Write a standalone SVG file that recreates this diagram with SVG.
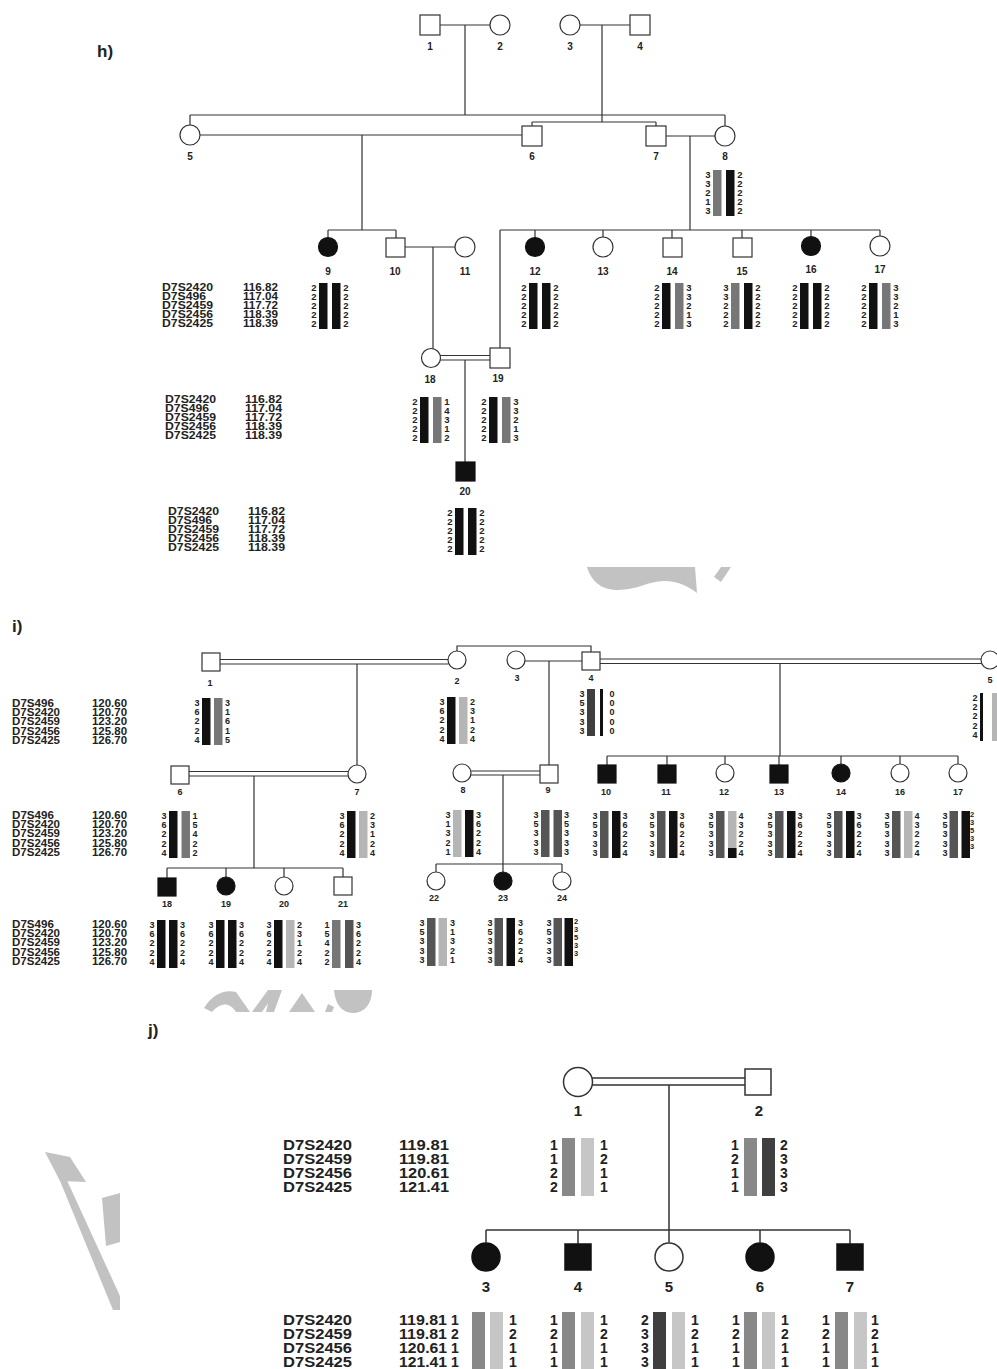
<svg xmlns="http://www.w3.org/2000/svg" width="997" height="1369" viewBox="0 0 997 1369">
<style>
.l{stroke:#333;stroke-width:1.2;fill:none}
.lj{stroke:#333;stroke-width:1.5;fill:none}
.n{fill:#fff;stroke:#333;stroke-width:1.2}
.nj{fill:#fff;stroke:#333;stroke-width:1.5}
.f{fill:#111;stroke:#111;stroke-width:1.2}
.fj{fill:#111;stroke:#111;stroke-width:1.5}
text{font-family:"Liberation Sans",Arial,Helvetica,sans-serif;fill:#222}
.sec{font-size:17px;font-weight:bold}
.lb{font-size:10px;font-weight:bold;text-anchor:middle}
.lbi{font-size:9px;font-weight:bold;text-anchor:middle}
.lbj{font-size:15px;font-weight:bold;text-anchor:middle}
.a{font-size:9.5px;font-weight:bold;text-anchor:middle}
.ai{font-size:9px;font-weight:bold;text-anchor:middle}
.as{font-size:7.5px;font-weight:bold;text-anchor:middle}
.aj{font-size:14px;font-weight:bold;text-anchor:middle}
.m{font-size:10px;font-weight:bold}
.mj{font-size:14px;font-weight:bold}
.bk{fill:#111}.dg{fill:#555}.d4{fill:#3f3f3f}.mg{fill:#777}.gj{fill:#888}.lg{fill:#b5b5b5}.lc{fill:#c6c6c6}
.wm{fill:#c2c2c2}
</style>

<!-- watermark fragments -->
<g id="watermark">
<path class="wm" d="M587,567 L695,567 L697,593 C688,586 678,581 664,581 C648,581 638,590 618,590 C600,590 591,580 587,567 Z"/>
<path class="wm" d="M721,567 L731,567 L721,582 L714,577 Z"/>
<path class="wm" d="M204,1008 C212,995 224,989 236,992 L250,1012 L236,1012 C230,1002 220,1002 212,1012 Z"/>
<path class="wm" d="M252,1012 L268,990 L282,990 L274,1012 L266,1012 L268,1003 L262,1012 Z"/>
<path class="wm" d="M289,1012 L302,993 L315,1012 Z"/>
<path class="wm" d="M325,1012 L328,1004 L334,1007 L332,1012 Z"/>
<path class="wm" d="M334,990 L372,990 C372,1004 364,1013 353,1013 C342,1013 335,1004 334,990 Z"/>
<path class="wm" d="M45,1152 L70,1157 L86,1182 L60,1181 Z"/>
<path class="wm" d="M58,1176 L65,1176 L120,1296 L120,1310 L113,1310 Z"/>
<path class="wm" d="M102,1198 L120,1193 L120,1242 L106,1246 Z"/>
</g>

<!-- section labels -->
<text class="sec" x="97" y="57">h)</text>
<text class="sec" x="12" y="632">i)</text>
<text class="sec" x="148" y="1036">j)</text>

<!-- ===================== h) connectors ===================== -->
<g id="h-connectors">
<path class="l" d="M440,25 H490 M465,25 V115 M580,25 H630 M602,25 V122"/>
<path class="l" d="M190,115 H725 M190,115 V125 M725,115 V126"/>
<path class="l" d="M532,122 H656 M532,122 V126 M656,122 V126"/>
<path class="l" d="M200,135 H522 M362,135 V230 M666,136 H715 M690,136 V230"/>
<path class="l" d="M328,230 H396 M328,230 V237.5 M396,230 V238"/>
<path class="l" d="M500,230 H880 M535,230 V237.5 M603,230 V237 M672,230 V238 M742,230 V238 M811,230 V236.5 M880,230 V236"/>
<path class="l" d="M500,230 V348 M405,247 H455 M433,247 V349"/>
<path class="l" d="M440,355.5 H490 M440,360 H490 M465,360 V462"/>
</g>

<!-- h) marker tables -->
<g id="h-markers1">
<text class="m" x="162" y="290.5" textLength="51" lengthAdjust="spacingAndGlyphs">D7S2420</text>
<text class="m" x="162" y="299.7" textLength="44" lengthAdjust="spacingAndGlyphs">D7S496</text>
<text class="m" x="162" y="308.9" textLength="51" lengthAdjust="spacingAndGlyphs">D7S2459</text>
<text class="m" x="162" y="318.1" textLength="51" lengthAdjust="spacingAndGlyphs">D7S2456</text>
<text class="m" x="162" y="327.3" textLength="51" lengthAdjust="spacingAndGlyphs">D7S2425</text>
<text class="m" x="243" y="290.5" textLength="35" lengthAdjust="spacingAndGlyphs">116.82</text>
<text class="m" x="243" y="299.7" textLength="35" lengthAdjust="spacingAndGlyphs">117.04</text>
<text class="m" x="243" y="308.9" textLength="35" lengthAdjust="spacingAndGlyphs">117.72</text>
<text class="m" x="243" y="318.1" textLength="35" lengthAdjust="spacingAndGlyphs">118.39</text>
<text class="m" x="243" y="327.3" textLength="35" lengthAdjust="spacingAndGlyphs">118.39</text>
</g>
<g id="h-markers2">
<text class="m" x="165" y="402.5" textLength="51" lengthAdjust="spacingAndGlyphs">D7S2420</text>
<text class="m" x="165" y="411.7" textLength="44" lengthAdjust="spacingAndGlyphs">D7S496</text>
<text class="m" x="165" y="420.9" textLength="51" lengthAdjust="spacingAndGlyphs">D7S2459</text>
<text class="m" x="165" y="430.1" textLength="51" lengthAdjust="spacingAndGlyphs">D7S2456</text>
<text class="m" x="165" y="439.3" textLength="51" lengthAdjust="spacingAndGlyphs">D7S2425</text>
<text class="m" x="245" y="402.5" textLength="37" lengthAdjust="spacingAndGlyphs">116.82</text>
<text class="m" x="245" y="411.7" textLength="37" lengthAdjust="spacingAndGlyphs">117.04</text>
<text class="m" x="245" y="420.9" textLength="37" lengthAdjust="spacingAndGlyphs">117.72</text>
<text class="m" x="245" y="430.1" textLength="37" lengthAdjust="spacingAndGlyphs">118.39</text>
<text class="m" x="245" y="439.3" textLength="37" lengthAdjust="spacingAndGlyphs">118.39</text>
</g>
<g id="h-markers3">
<text class="m" x="168" y="514.5" textLength="51" lengthAdjust="spacingAndGlyphs">D7S2420</text>
<text class="m" x="168" y="523.7" textLength="44" lengthAdjust="spacingAndGlyphs">D7S496</text>
<text class="m" x="168" y="532.9" textLength="51" lengthAdjust="spacingAndGlyphs">D7S2459</text>
<text class="m" x="168" y="542.1" textLength="51" lengthAdjust="spacingAndGlyphs">D7S2456</text>
<text class="m" x="168" y="551.3" textLength="51" lengthAdjust="spacingAndGlyphs">D7S2425</text>
<text class="m" x="248" y="514.5" textLength="37" lengthAdjust="spacingAndGlyphs">116.82</text>
<text class="m" x="248" y="523.7" textLength="37" lengthAdjust="spacingAndGlyphs">117.04</text>
<text class="m" x="248" y="532.9" textLength="37" lengthAdjust="spacingAndGlyphs">117.72</text>
<text class="m" x="248" y="542.1" textLength="37" lengthAdjust="spacingAndGlyphs">118.39</text>
<text class="m" x="248" y="551.3" textLength="37" lengthAdjust="spacingAndGlyphs">118.39</text>
</g>

<!-- ===================== h) nodes ===================== -->
<g id="h1"><rect class="n" x="420" y="15" width="20" height="20"/><text class="lb" x="430" y="50">1</text></g>
<g id="h2"><circle class="n" cx="500" cy="25" r="10"/><text class="lb" x="500" y="50">2</text></g>
<g id="h3"><circle class="n" cx="570" cy="25" r="10"/><text class="lb" x="570" y="50">3</text></g>
<g id="h4"><rect class="n" x="630" y="15" width="20" height="20"/><text class="lb" x="640" y="50">4</text></g>
<g id="h5"><circle class="n" cx="190" cy="135" r="10"/><text class="lb" x="190" y="160">5</text></g>
<g id="h6"><rect class="n" x="522" y="126" width="20" height="20"/><text class="lb" x="532" y="160">6</text></g>
<g id="h7"><rect class="n" x="646" y="126" width="20" height="20"/><text class="lb" x="656" y="160">7</text></g>
<g id="h8"><circle class="n" cx="725" cy="136" r="10"/><text class="lb" x="725" y="160">8</text>
<g transform="translate(708,170)"><rect class="mg" x="5" width="8.5" height="46"/><rect class="bk" x="18" width="8.5" height="46"/>
<text class="a" x="0" y="7.5">3<tspan x="0" dy="9.2">3</tspan><tspan x="0" dy="9.2">2</tspan><tspan x="0" dy="9.2">1</tspan><tspan x="0" dy="9.2">3</tspan></text>
<text class="a" x="32" y="7.5">2<tspan x="32" dy="9.2">2</tspan><tspan x="32" dy="9.2">2</tspan><tspan x="32" dy="9.2">2</tspan><tspan x="32" dy="9.2">2</tspan></text></g></g>

<g id="h9"><circle class="f" cx="328" cy="247" r="9.5"/><text class="lb" x="328" y="275">9</text>
<g transform="translate(314,283)"><rect class="bk" x="5" width="8.5" height="46"/><rect class="bk" x="18" width="8.5" height="46"/>
<text class="a" x="0" y="7.5">2<tspan x="0" dy="9.2">2</tspan><tspan x="0" dy="9.2">2</tspan><tspan x="0" dy="9.2">2</tspan><tspan x="0" dy="9.2">2</tspan></text>
<text class="a" x="32" y="7.5">2<tspan x="32" dy="9.2">2</tspan><tspan x="32" dy="9.2">2</tspan><tspan x="32" dy="9.2">2</tspan><tspan x="32" dy="9.2">2</tspan></text></g></g>
<g id="h10"><rect class="n" x="386" y="238" width="19" height="19"/><text class="lb" x="395" y="275">10</text></g>
<g id="h11"><circle class="n" cx="465" cy="247" r="10"/><text class="lb" x="465" y="275">11</text></g>
<g id="h12"><circle class="f" cx="535" cy="247" r="9.5"/><text class="lb" x="535" y="275">12</text>
<g transform="translate(524,283)"><rect class="bk" x="5" width="8.5" height="46"/><rect class="bk" x="18" width="8.5" height="46"/>
<text class="a" x="0" y="7.5">2<tspan x="0" dy="9.2">2</tspan><tspan x="0" dy="9.2">2</tspan><tspan x="0" dy="9.2">2</tspan><tspan x="0" dy="9.2">2</tspan></text>
<text class="a" x="32" y="7.5">2<tspan x="32" dy="9.2">2</tspan><tspan x="32" dy="9.2">2</tspan><tspan x="32" dy="9.2">2</tspan><tspan x="32" dy="9.2">2</tspan></text></g></g>
<g id="h13"><circle class="n" cx="603" cy="247" r="10"/><text class="lb" x="603" y="275">13</text></g>
<g id="h14"><rect class="n" x="663" y="238" width="19" height="19"/><text class="lb" x="672" y="275">14</text>
<g transform="translate(657,283)"><rect class="bk" x="5" width="8.5" height="46"/><rect class="mg" x="18" width="8.5" height="46"/>
<text class="a" x="0" y="7.5">2<tspan x="0" dy="9.2">2</tspan><tspan x="0" dy="9.2">2</tspan><tspan x="0" dy="9.2">2</tspan><tspan x="0" dy="9.2">2</tspan></text>
<text class="a" x="32" y="7.5">3<tspan x="32" dy="9.2">3</tspan><tspan x="32" dy="9.2">2</tspan><tspan x="32" dy="9.2">1</tspan><tspan x="32" dy="9.2">3</tspan></text></g></g>
<g id="h15"><rect class="n" x="733" y="238" width="19" height="19"/><text class="lb" x="742" y="275">15</text>
<g transform="translate(726,283)"><rect class="mg" x="5" width="8.5" height="46"/><rect class="bk" x="18" width="8.5" height="46"/>
<text class="a" x="0" y="7.5">3<tspan x="0" dy="9.2">3</tspan><tspan x="0" dy="9.2">2</tspan><tspan x="0" dy="9.2">2</tspan><tspan x="0" dy="9.2">2</tspan></text>
<text class="a" x="32" y="7.5">2<tspan x="32" dy="9.2">2</tspan><tspan x="32" dy="9.2">2</tspan><tspan x="32" dy="9.2">2</tspan><tspan x="32" dy="9.2">2</tspan></text></g></g>
<g id="h16"><circle class="f" cx="811" cy="246" r="9.5"/><text class="lb" x="811" y="273">16</text>
<g transform="translate(795,283)"><rect class="bk" x="5" width="8.5" height="46"/><rect class="bk" x="18" width="8.5" height="46"/>
<text class="a" x="0" y="7.5">2<tspan x="0" dy="9.2">2</tspan><tspan x="0" dy="9.2">2</tspan><tspan x="0" dy="9.2">2</tspan><tspan x="0" dy="9.2">2</tspan></text>
<text class="a" x="32" y="7.5">2<tspan x="32" dy="9.2">2</tspan><tspan x="32" dy="9.2">2</tspan><tspan x="32" dy="9.2">2</tspan><tspan x="32" dy="9.2">2</tspan></text></g></g>
<g id="h17"><circle class="n" cx="880" cy="246" r="10"/><text class="lb" x="880" y="273">17</text>
<g transform="translate(864,283)"><rect class="bk" x="5" width="8.5" height="46"/><rect class="mg" x="18" width="8.5" height="46"/>
<text class="a" x="0" y="7.5">2<tspan x="0" dy="9.2">2</tspan><tspan x="0" dy="9.2">2</tspan><tspan x="0" dy="9.2">2</tspan><tspan x="0" dy="9.2">2</tspan></text>
<text class="a" x="32" y="7.5">3<tspan x="32" dy="9.2">3</tspan><tspan x="32" dy="9.2">2</tspan><tspan x="32" dy="9.2">1</tspan><tspan x="32" dy="9.2">3</tspan></text></g></g>
<g id="h18"><circle class="n" cx="431" cy="358" r="9.5"/><text class="lb" x="430" y="383">18</text>
<g transform="translate(415,397)"><rect class="bk" x="5" width="8.5" height="46"/><rect class="mg" x="18" width="8.5" height="46"/>
<text class="a" x="0" y="7.5">2<tspan x="0" dy="9.2">2</tspan><tspan x="0" dy="9.2">2</tspan><tspan x="0" dy="9.2">2</tspan><tspan x="0" dy="9.2">2</tspan></text>
<text class="a" x="32" y="7.5">1<tspan x="32" dy="9.2">4</tspan><tspan x="32" dy="9.2">3</tspan><tspan x="32" dy="9.2">1</tspan><tspan x="32" dy="9.2">2</tspan></text></g></g>
<g id="h19"><rect class="n" x="490" y="348" width="20" height="20"/><text class="lb" x="498" y="382">19</text>
<g transform="translate(484,397)"><rect class="bk" x="5" width="8.5" height="46"/><rect class="mg" x="18" width="8.5" height="46"/>
<text class="a" x="0" y="7.5">2<tspan x="0" dy="9.2">2</tspan><tspan x="0" dy="9.2">2</tspan><tspan x="0" dy="9.2">2</tspan><tspan x="0" dy="9.2">2</tspan></text>
<text class="a" x="32" y="7.5">3<tspan x="32" dy="9.2">3</tspan><tspan x="32" dy="9.2">2</tspan><tspan x="32" dy="9.2">1</tspan><tspan x="32" dy="9.2">3</tspan></text></g></g>
<g id="h20"><rect class="f" x="456" y="462" width="19" height="19"/><text class="lb" x="465" y="495">20</text>
<g transform="translate(450,508)"><rect class="bk" x="5" width="8.5" height="47"/><rect class="bk" x="18" width="8.5" height="47"/>
<text class="a" x="0" y="7.5">2<tspan x="0" dy="9.2">2</tspan><tspan x="0" dy="9.2">2</tspan><tspan x="0" dy="9.2">2</tspan><tspan x="0" dy="9.2">2</tspan></text>
<text class="a" x="32" y="7.5">2<tspan x="32" dy="9.2">2</tspan><tspan x="32" dy="9.2">2</tspan><tspan x="32" dy="9.2">2</tspan><tspan x="32" dy="9.2">2</tspan></text></g></g>

<!-- ===================== i) connectors ===================== -->
<g id="i-connectors">
<path class="l" d="M220,659.5 H448 M220,664 H448 M357,664 V765"/>
<path class="l" d="M457,651 V646 H591 V652"/>
<path class="l" d="M525,661 H582 M549,661 V765"/>
<path class="l" d="M600,659 H981 M600,663.5 H981 M780,663.5 V756"/>
<path class="l" d="M607,756 H958 M607,756 V765 M667,756 V765 M725,756 V764 M779,756 V765 M841,756 V764 M900,756 V764 M958,756 V764"/>
<path class="l" d="M189,771.5 H348 M189,776 H348 M254,776 V868"/>
<path class="l" d="M167,868 H343 M167,868 V878 M226,868 V877 M284,868 V877 M343,868 V877"/>
<path class="l" d="M471,771 H540 M471,775 H540 M503,775 V864"/>
<path class="l" d="M436,864 H562 M436,864 V872 M503,864 V872 M562,864 V872"/>
</g>

<!-- i) marker tables -->
<g id="i-markers1">
<text class="m" x="12" y="706.5" textLength="42" lengthAdjust="spacingAndGlyphs">D7S496</text>
<text class="m" x="12" y="715.9" textLength="48" lengthAdjust="spacingAndGlyphs">D7S2420</text>
<text class="m" x="12" y="725.3" textLength="48" lengthAdjust="spacingAndGlyphs">D7S2459</text>
<text class="m" x="12" y="734.7" textLength="48" lengthAdjust="spacingAndGlyphs">D7S2456</text>
<text class="m" x="12" y="744.1" textLength="48" lengthAdjust="spacingAndGlyphs">D7S2425</text>
<text class="m" x="92" y="706.5" textLength="35" lengthAdjust="spacingAndGlyphs">120.60</text>
<text class="m" x="92" y="715.9" textLength="35" lengthAdjust="spacingAndGlyphs">120.70</text>
<text class="m" x="92" y="725.3" textLength="35" lengthAdjust="spacingAndGlyphs">123.20</text>
<text class="m" x="92" y="734.7" textLength="35" lengthAdjust="spacingAndGlyphs">125.80</text>
<text class="m" x="92" y="744.1" textLength="35" lengthAdjust="spacingAndGlyphs">126.70</text>
</g>
<g id="i-markers2">
<text class="m" x="12" y="818.5" textLength="42" lengthAdjust="spacingAndGlyphs">D7S496</text>
<text class="m" x="12" y="827.9" textLength="48" lengthAdjust="spacingAndGlyphs">D7S2420</text>
<text class="m" x="12" y="837.3" textLength="48" lengthAdjust="spacingAndGlyphs">D7S2459</text>
<text class="m" x="12" y="846.7" textLength="48" lengthAdjust="spacingAndGlyphs">D7S2456</text>
<text class="m" x="12" y="856.1" textLength="48" lengthAdjust="spacingAndGlyphs">D7S2425</text>
<text class="m" x="92" y="818.5" textLength="35" lengthAdjust="spacingAndGlyphs">120.60</text>
<text class="m" x="92" y="827.9" textLength="35" lengthAdjust="spacingAndGlyphs">120.70</text>
<text class="m" x="92" y="837.3" textLength="35" lengthAdjust="spacingAndGlyphs">123.20</text>
<text class="m" x="92" y="846.7" textLength="35" lengthAdjust="spacingAndGlyphs">125.80</text>
<text class="m" x="92" y="856.1" textLength="35" lengthAdjust="spacingAndGlyphs">126.70</text>
</g>
<g id="i-markers3">
<text class="m" x="12" y="927.5" textLength="42" lengthAdjust="spacingAndGlyphs">D7S496</text>
<text class="m" x="12" y="936.9" textLength="48" lengthAdjust="spacingAndGlyphs">D7S2420</text>
<text class="m" x="12" y="946.3" textLength="48" lengthAdjust="spacingAndGlyphs">D7S2459</text>
<text class="m" x="12" y="955.7" textLength="48" lengthAdjust="spacingAndGlyphs">D7S2456</text>
<text class="m" x="12" y="965.1" textLength="48" lengthAdjust="spacingAndGlyphs">D7S2425</text>
<text class="m" x="92" y="927.5" textLength="35" lengthAdjust="spacingAndGlyphs">120.60</text>
<text class="m" x="92" y="936.9" textLength="35" lengthAdjust="spacingAndGlyphs">120.70</text>
<text class="m" x="92" y="946.3" textLength="35" lengthAdjust="spacingAndGlyphs">123.20</text>
<text class="m" x="92" y="955.7" textLength="35" lengthAdjust="spacingAndGlyphs">125.80</text>
<text class="m" x="92" y="965.1" textLength="35" lengthAdjust="spacingAndGlyphs">126.70</text>
</g>

<!-- ===================== i) nodes ===================== -->
<g id="i1"><rect class="n" x="202" y="653" width="18" height="18"/><text class="lbi" x="210" y="686">1</text>
<g transform="translate(197,698)"><rect class="bk" x="5" width="8.5" height="47"/><rect class="mg" x="17" width="8.5" height="47"/>
<text class="ai" x="0" y="7.5">3<tspan x="0" dy="9.4">6</tspan><tspan x="0" dy="9.4">2</tspan><tspan x="0" dy="9.4">2</tspan><tspan x="0" dy="9.4">4</tspan></text>
<text class="ai" x="30.5" y="7.5">3<tspan x="30.5" dy="9.4">1</tspan><tspan x="30.5" dy="9.4">6</tspan><tspan x="30.5" dy="9.4">1</tspan><tspan x="30.5" dy="9.4">5</tspan></text></g></g>
<g id="i2"><circle class="n" cx="457" cy="660" r="9"/><text class="lbi" x="457" y="684">2</text>
<g transform="translate(442,697)"><rect class="bk" x="5" width="8.5" height="47"/><rect class="lg" x="17" width="8.5" height="47"/>
<text class="ai" x="0" y="7.5">3<tspan x="0" dy="9.4">6</tspan><tspan x="0" dy="9.4">2</tspan><tspan x="0" dy="9.4">2</tspan><tspan x="0" dy="9.4">4</tspan></text>
<text class="ai" x="30.5" y="7.5">2<tspan x="30.5" dy="9.4">3</tspan><tspan x="30.5" dy="9.4">1</tspan><tspan x="30.5" dy="9.4">2</tspan><tspan x="30.5" dy="9.4">4</tspan></text></g></g>
<g id="i3"><circle class="n" cx="516" cy="660" r="9"/><text class="lbi" x="517" y="681">3</text></g>
<g id="i4"><rect class="n" x="582" y="652" width="18" height="18"/><text class="lbi" x="591" y="681">4</text>
<g transform="translate(582,689)"><rect class="d4" x="5" width="8" height="47"/><rect class="bk" x="18" width="3" height="47"/>
<text class="ai" x="0" y="7.5">3<tspan x="0" dy="9.4">5</tspan><tspan x="0" dy="9.4">3</tspan><tspan x="0" dy="9.4">3</tspan><tspan x="0" dy="9.4">3</tspan></text>
<text class="ai" x="30" y="7.5">0<tspan x="30" dy="9.4">0</tspan><tspan x="30" dy="9.4">0</tspan><tspan x="30" dy="9.4">0</tspan><tspan x="30" dy="9.4">0</tspan></text></g></g>
<g id="i5"><circle class="n" cx="990" cy="660" r="9"/><text class="lbi" x="990" y="683">5</text>
<g transform="translate(975,693)"><rect class="bk" x="5" width="3" height="48"/><rect class="lg" x="17" width="8" height="48"/>
<text class="ai" x="0" y="7.5">2<tspan x="0" dy="9.4">2</tspan><tspan x="0" dy="9.4">2</tspan><tspan x="0" dy="9.4">2</tspan><tspan x="0" dy="9.4">4</tspan></text></g></g>

<g id="i6"><rect class="n" x="171" y="766" width="18" height="18"/><text class="lbi" x="180" y="795">6</text>
<g transform="translate(164,811)"><rect class="bk" x="5" width="8.5" height="47"/><rect class="mg" x="17.5" width="8.5" height="47"/>
<text class="ai" x="0" y="7.5">3<tspan x="0" dy="9.4">6</tspan><tspan x="0" dy="9.4">2</tspan><tspan x="0" dy="9.4">2</tspan><tspan x="0" dy="9.4">4</tspan></text>
<text class="ai" x="31" y="7.5">1<tspan x="31" dy="9.4">5</tspan><tspan x="31" dy="9.4">4</tspan><tspan x="31" dy="9.4">2</tspan><tspan x="31" dy="9.4">2</tspan></text></g></g>
<g id="i7"><circle class="n" cx="357" cy="774" r="9"/><text class="lbi" x="357" y="795">7</text>
<g transform="translate(342,811)"><rect class="bk" x="5" width="8.5" height="47"/><rect class="lg" x="17" width="8.5" height="47"/>
<text class="ai" x="0" y="7.5">3<tspan x="0" dy="9.4">6</tspan><tspan x="0" dy="9.4">2</tspan><tspan x="0" dy="9.4">2</tspan><tspan x="0" dy="9.4">4</tspan></text>
<text class="ai" x="30.5" y="7.5">2<tspan x="30.5" dy="9.4">3</tspan><tspan x="30.5" dy="9.4">1</tspan><tspan x="30.5" dy="9.4">2</tspan><tspan x="30.5" dy="9.4">4</tspan></text></g></g>
<g id="i8"><circle class="n" cx="462" cy="773" r="9"/><text class="lbi" x="463" y="793">8</text>
<g transform="translate(448,810)"><rect class="lg" x="5" width="8.5" height="47"/><rect class="bk" x="17" width="8.5" height="47"/>
<text class="ai" x="0" y="7.5">3<tspan x="0" dy="9.4">1</tspan><tspan x="0" dy="9.4">3</tspan><tspan x="0" dy="9.4">2</tspan><tspan x="0" dy="9.4">1</tspan></text>
<text class="ai" x="30.5" y="7.5">3<tspan x="30.5" dy="9.4">6</tspan><tspan x="30.5" dy="9.4">2</tspan><tspan x="30.5" dy="9.4">2</tspan><tspan x="30.5" dy="9.4">4</tspan></text></g></g>
<g id="i9"><rect class="n" x="540" y="765" width="18" height="18"/><text class="lbi" x="548" y="793">9</text>
<g transform="translate(536,810)"><rect class="dg" x="5" width="8.5" height="47"/><rect class="dg" x="17.5" width="8.5" height="47"/>
<text class="ai" x="0" y="7.5">3<tspan x="0" dy="9.4">5</tspan><tspan x="0" dy="9.4">3</tspan><tspan x="0" dy="9.4">3</tspan><tspan x="0" dy="9.4">3</tspan></text>
<text class="ai" x="30.5" y="7.5">3<tspan x="30.5" dy="9.4">5</tspan><tspan x="30.5" dy="9.4">3</tspan><tspan x="30.5" dy="9.4">3</tspan><tspan x="30.5" dy="9.4">3</tspan></text></g></g>
<g id="i10"><rect class="f" x="598" y="765" width="18" height="18"/><text class="lbi" x="606" y="795">10</text>
<g transform="translate(595,811)"><rect class="dg" x="5" width="8.5" height="47"/><rect class="bk" x="17" width="8.5" height="47"/>
<text class="ai" x="0" y="7.5">3<tspan x="0" dy="9.4">5</tspan><tspan x="0" dy="9.4">3</tspan><tspan x="0" dy="9.4">3</tspan><tspan x="0" dy="9.4">3</tspan></text>
<text class="ai" x="30" y="7.5">3<tspan x="30" dy="9.4">6</tspan><tspan x="30" dy="9.4">2</tspan><tspan x="30" dy="9.4">2</tspan><tspan x="30" dy="9.4">4</tspan></text></g></g>
<g id="i11"><rect class="f" x="658" y="765" width="18" height="18"/><text class="lbi" x="666" y="795">11</text>
<g transform="translate(652,811)"><rect class="dg" x="5" width="8.5" height="47"/><rect class="bk" x="17" width="8.5" height="47"/>
<text class="ai" x="0" y="7.5">3<tspan x="0" dy="9.4">5</tspan><tspan x="0" dy="9.4">3</tspan><tspan x="0" dy="9.4">3</tspan><tspan x="0" dy="9.4">3</tspan></text>
<text class="ai" x="30" y="7.5">3<tspan x="30" dy="9.4">6</tspan><tspan x="30" dy="9.4">2</tspan><tspan x="30" dy="9.4">2</tspan><tspan x="30" dy="9.4">4</tspan></text></g></g>
<g id="i12"><circle class="n" cx="725" cy="773" r="9"/><text class="lbi" x="724" y="795">12</text>
<g transform="translate(711,811)"><rect class="dg" x="5" width="8.5" height="47"/><rect class="lg" x="17" width="8.5" height="47"/><rect class="bk" x="17" y="37" width="8.5" height="10"/>
<text class="ai" x="0" y="7.5">3<tspan x="0" dy="9.4">5</tspan><tspan x="0" dy="9.4">3</tspan><tspan x="0" dy="9.4">3</tspan><tspan x="0" dy="9.4">3</tspan></text>
<text class="ai" x="30" y="7.5">4<tspan x="30" dy="9.4">3</tspan><tspan x="30" dy="9.4">2</tspan><tspan x="30" dy="9.4">2</tspan><tspan x="30" dy="9.4">4</tspan></text></g></g>
<g id="i13"><rect class="f" x="770" y="765" width="18" height="18"/><text class="lbi" x="779" y="795">13</text>
<g transform="translate(770,811)"><rect class="dg" x="5" width="8.5" height="47"/><rect class="bk" x="17" width="8.5" height="47"/>
<text class="ai" x="0" y="7.5">3<tspan x="0" dy="9.4">5</tspan><tspan x="0" dy="9.4">3</tspan><tspan x="0" dy="9.4">3</tspan><tspan x="0" dy="9.4">3</tspan></text>
<text class="ai" x="30" y="7.5">3<tspan x="30" dy="9.4">6</tspan><tspan x="30" dy="9.4">2</tspan><tspan x="30" dy="9.4">2</tspan><tspan x="30" dy="9.4">4</tspan></text></g></g>
<g id="i14"><circle class="f" cx="841" cy="773" r="9"/><text class="lbi" x="841" y="795">14</text>
<g transform="translate(829,811)"><rect class="dg" x="5" width="8.5" height="47"/><rect class="bk" x="17" width="8.5" height="47"/>
<text class="ai" x="0" y="7.5">3<tspan x="0" dy="9.4">5</tspan><tspan x="0" dy="9.4">3</tspan><tspan x="0" dy="9.4">3</tspan><tspan x="0" dy="9.4">3</tspan></text>
<text class="ai" x="30" y="7.5">3<tspan x="30" dy="9.4">6</tspan><tspan x="30" dy="9.4">2</tspan><tspan x="30" dy="9.4">2</tspan><tspan x="30" dy="9.4">4</tspan></text></g></g>
<g id="i16"><circle class="n" cx="900" cy="773" r="9"/><text class="lbi" x="900" y="795">16</text>
<g transform="translate(887,811)"><rect class="dg" x="5" width="8.5" height="47"/><rect class="lg" x="17" width="8.5" height="47"/>
<text class="ai" x="0" y="7.5">3<tspan x="0" dy="9.4">5</tspan><tspan x="0" dy="9.4">3</tspan><tspan x="0" dy="9.4">3</tspan><tspan x="0" dy="9.4">3</tspan></text>
<text class="ai" x="30" y="7.5">4<tspan x="30" dy="9.4">3</tspan><tspan x="30" dy="9.4">2</tspan><tspan x="30" dy="9.4">2</tspan><tspan x="30" dy="9.4">4</tspan></text></g></g>
<g id="i17"><circle class="n" cx="958" cy="773" r="9"/><text class="lbi" x="958" y="795">17</text>
<g transform="translate(945,811)"><rect class="dg" x="4.5" width="8.5" height="47"/><rect class="bk" x="16.5" width="8.5" height="47"/>
<text class="ai" x="0" y="7.5">3<tspan x="0" dy="9.4">5</tspan><tspan x="0" dy="9.4">3</tspan><tspan x="0" dy="9.4">3</tspan><tspan x="0" dy="9.4">3</tspan></text>
<text class="as" x="27" y="6">2<tspan x="27" dy="8">3</tspan><tspan x="27" dy="8">5</tspan><tspan x="27" dy="8">3</tspan><tspan x="27" dy="8">3</tspan></text></g></g>

<g id="i18"><rect class="f" x="158" y="878" width="18" height="18"/><text class="lbi" x="167" y="907">18</text>
<g transform="translate(152,920)"><rect class="bk" x="5" width="8.5" height="48"/><rect class="bk" x="17" width="8.5" height="48"/>
<text class="ai" x="0" y="7.5">3<tspan x="0" dy="9.4">6</tspan><tspan x="0" dy="9.4">2</tspan><tspan x="0" dy="9.4">2</tspan><tspan x="0" dy="9.4">4</tspan></text>
<text class="ai" x="30.5" y="7.5">3<tspan x="30.5" dy="9.4">6</tspan><tspan x="30.5" dy="9.4">2</tspan><tspan x="30.5" dy="9.4">2</tspan><tspan x="30.5" dy="9.4">4</tspan></text></g></g>
<g id="i19"><circle class="f" cx="226" cy="886" r="9"/><text class="lbi" x="226" y="907">19</text>
<g transform="translate(211,920)"><rect class="bk" x="5" width="8.5" height="48"/><rect class="bk" x="17" width="8.5" height="48"/>
<text class="ai" x="0" y="7.5">3<tspan x="0" dy="9.4">6</tspan><tspan x="0" dy="9.4">2</tspan><tspan x="0" dy="9.4">2</tspan><tspan x="0" dy="9.4">4</tspan></text>
<text class="ai" x="30.5" y="7.5">3<tspan x="30.5" dy="9.4">6</tspan><tspan x="30.5" dy="9.4">2</tspan><tspan x="30.5" dy="9.4">2</tspan><tspan x="30.5" dy="9.4">4</tspan></text></g></g>
<g id="i20"><circle class="n" cx="284" cy="886" r="9"/><text class="lbi" x="284" y="907">20</text>
<g transform="translate(269,920)"><rect class="bk" x="5" width="8.5" height="48"/><rect class="lg" x="17" width="8.5" height="48"/>
<text class="ai" x="0" y="7.5">3<tspan x="0" dy="9.4">6</tspan><tspan x="0" dy="9.4">2</tspan><tspan x="0" dy="9.4">2</tspan><tspan x="0" dy="9.4">4</tspan></text>
<text class="ai" x="30.5" y="7.5">2<tspan x="30.5" dy="9.4">3</tspan><tspan x="30.5" dy="9.4">1</tspan><tspan x="30.5" dy="9.4">2</tspan><tspan x="30.5" dy="9.4">4</tspan></text></g></g>
<g id="i21"><rect class="n" x="334" y="877" width="18" height="18"/><text class="lbi" x="343" y="907">21</text>
<g transform="translate(327,920)"><rect class="mg" x="5" width="8.5" height="48"/><rect class="dg" x="18" width="8.5" height="48"/>
<text class="ai" x="0" y="7.5">1<tspan x="0" dy="9.4">5</tspan><tspan x="0" dy="9.4">4</tspan><tspan x="0" dy="9.4">2</tspan><tspan x="0" dy="9.4">2</tspan></text>
<text class="ai" x="31.5" y="7.5">3<tspan x="31.5" dy="9.4">6</tspan><tspan x="31.5" dy="9.4">2</tspan><tspan x="31.5" dy="9.4">2</tspan><tspan x="31.5" dy="9.4">4</tspan></text></g></g>
<g id="i22"><circle class="n" cx="436" cy="881" r="9"/><text class="lbi" x="434" y="901">22</text>
<g transform="translate(422,918)"><rect class="dg" x="5" width="8.5" height="48"/><rect class="lg" x="16.5" width="8.5" height="48"/>
<text class="ai" x="0" y="7.5">3<tspan x="0" dy="9.4">5</tspan><tspan x="0" dy="9.4">3</tspan><tspan x="0" dy="9.4">3</tspan><tspan x="0" dy="9.4">3</tspan></text>
<text class="ai" x="30.5" y="7.5">3<tspan x="30.5" dy="9.4">1</tspan><tspan x="30.5" dy="9.4">3</tspan><tspan x="30.5" dy="9.4">2</tspan><tspan x="30.5" dy="9.4">1</tspan></text></g></g>
<g id="i23"><circle class="f" cx="503" cy="881" r="9"/><text class="lbi" x="503" y="901">23</text>
<g transform="translate(490,918)"><rect class="dg" x="4.5" width="8.5" height="48"/><rect class="bk" x="16.5" width="8.5" height="48"/>
<text class="ai" x="0" y="7.5">3<tspan x="0" dy="9.4">5</tspan><tspan x="0" dy="9.4">3</tspan><tspan x="0" dy="9.4">3</tspan><tspan x="0" dy="9.4">3</tspan></text>
<text class="ai" x="30.5" y="7.5">3<tspan x="30.5" dy="9.4">6</tspan><tspan x="30.5" dy="9.4">2</tspan><tspan x="30.5" dy="9.4">2</tspan><tspan x="30.5" dy="9.4">4</tspan></text></g></g>
<g id="i24"><circle class="n" cx="562" cy="881" r="9"/><text class="lbi" x="562" y="901">24</text>
<g transform="translate(549,918)"><rect class="dg" x="4.5" width="8.5" height="48"/><rect class="bk" x="15.5" width="8.5" height="48"/>
<text class="ai" x="0" y="7.5">3<tspan x="0" dy="9.4">5</tspan><tspan x="0" dy="9.4">3</tspan><tspan x="0" dy="9.4">3</tspan><tspan x="0" dy="9.4">3</tspan></text>
<text class="as" x="27" y="6">2<tspan x="27" dy="8">3</tspan><tspan x="27" dy="8">5</tspan><tspan x="27" dy="8">3</tspan><tspan x="27" dy="8">3</tspan></text></g></g>

<!-- ===================== j) connectors ===================== -->
<g id="j-connectors">
<path class="lj" d="M592,1078 H745 M592,1085 H745 M669,1085 V1230"/>
<path class="lj" d="M486,1230 H850 M486,1230 V1242.5 M578,1230 V1244 M669,1230 V1242.5 M760,1230 V1242.5 M850,1230 V1244"/>
</g>

<!-- j) marker tables -->
<g id="j-markers1">
<text class="mj" x="283" y="1150" textLength="69" lengthAdjust="spacingAndGlyphs">D7S2420</text>
<text class="mj" x="283" y="1164" textLength="69" lengthAdjust="spacingAndGlyphs">D7S2459</text>
<text class="mj" x="283" y="1178" textLength="69" lengthAdjust="spacingAndGlyphs">D7S2456</text>
<text class="mj" x="283" y="1192" textLength="69" lengthAdjust="spacingAndGlyphs">D7S2425</text>
<text class="mj" x="399" y="1150" textLength="50" lengthAdjust="spacingAndGlyphs">119.81</text>
<text class="mj" x="399" y="1164" textLength="50" lengthAdjust="spacingAndGlyphs">119.81</text>
<text class="mj" x="399" y="1178" textLength="50" lengthAdjust="spacingAndGlyphs">120.61</text>
<text class="mj" x="399" y="1192" textLength="50" lengthAdjust="spacingAndGlyphs">121.41</text>
</g>
<g id="j-markers2">
<text class="mj" x="283" y="1325" textLength="69" lengthAdjust="spacingAndGlyphs">D7S2420</text>
<text class="mj" x="283" y="1339" textLength="69" lengthAdjust="spacingAndGlyphs">D7S2459</text>
<text class="mj" x="283" y="1353" textLength="69" lengthAdjust="spacingAndGlyphs">D7S2456</text>
<text class="mj" x="283" y="1367" textLength="69" lengthAdjust="spacingAndGlyphs">D7S2425</text>
<text class="mj" x="399" y="1325" textLength="48" lengthAdjust="spacingAndGlyphs">119.81</text>
<text class="mj" x="399" y="1339" textLength="48" lengthAdjust="spacingAndGlyphs">119.81</text>
<text class="mj" x="399" y="1353" textLength="48" lengthAdjust="spacingAndGlyphs">120.61</text>
<text class="mj" x="399" y="1367" textLength="48" lengthAdjust="spacingAndGlyphs">121.41</text>
</g>

<!-- ===================== j) nodes ===================== -->
<g id="j1"><circle class="nj" cx="578" cy="1082" r="14.5"/><text class="lbj" x="578" y="1116">1</text>
<g transform="translate(0,1138)"><rect class="gj" x="562" width="13" height="58"/><rect class="lc" x="581" width="13" height="58"/>
<text class="aj" x="554" y="12">1<tspan x="554" dy="14">1</tspan><tspan x="554" dy="14">2</tspan><tspan x="554" dy="14">2</tspan></text>
<text class="aj" x="604" y="12">1<tspan x="604" dy="14">2</tspan><tspan x="604" dy="14">1</tspan><tspan x="604" dy="14">1</tspan></text></g></g>
<g id="j2"><rect class="nj" x="745" y="1069" width="26" height="26"/><text class="lbj" x="759" y="1116">2</text>
<g transform="translate(0,1138)"><rect class="gj" x="744" width="13" height="58"/><rect class="d4" x="762" width="13" height="58"/>
<text class="aj" x="735" y="12">1<tspan x="735" dy="14">2</tspan><tspan x="735" dy="14">1</tspan><tspan x="735" dy="14">1</tspan></text>
<text class="aj" x="784" y="12">2<tspan x="784" dy="14">3</tspan><tspan x="784" dy="14">3</tspan><tspan x="784" dy="14">3</tspan></text></g></g>
<g id="j3"><circle class="fj" cx="486" cy="1257" r="14"/><text class="lbj" x="486" y="1292">3</text>
<g transform="translate(0,1312)"><rect class="gj" x="472" width="13" height="57"/><rect class="lc" x="490" width="13" height="57"/>
<text class="aj" x="455" y="13">1<tspan x="455" dy="14">2</tspan><tspan x="455" dy="14">1</tspan><tspan x="455" dy="14">1</tspan></text>
<text class="aj" x="513" y="13">1<tspan x="513" dy="14">2</tspan><tspan x="513" dy="14">1</tspan><tspan x="513" dy="14">1</tspan></text></g></g>
<g id="j4"><rect class="fj" x="565" y="1244" width="26" height="26"/><text class="lbj" x="578" y="1292">4</text>
<g transform="translate(0,1312)"><rect class="gj" x="562" width="13" height="57"/><rect class="lc" x="581" width="13" height="57"/>
<text class="aj" x="554" y="13">1<tspan x="554" dy="14">2</tspan><tspan x="554" dy="14">1</tspan><tspan x="554" dy="14">1</tspan></text>
<text class="aj" x="604" y="13">1<tspan x="604" dy="14">2</tspan><tspan x="604" dy="14">1</tspan><tspan x="604" dy="14">1</tspan></text></g></g>
<g id="j5"><circle class="nj" cx="669" cy="1257" r="14"/><text class="lbj" x="669" y="1292">5</text>
<g transform="translate(0,1312)"><rect class="d4" x="653" width="13" height="57"/><rect class="lc" x="672" width="13" height="57"/>
<text class="aj" x="645" y="13">2<tspan x="645" dy="14">3</tspan><tspan x="645" dy="14">3</tspan><tspan x="645" dy="14">3</tspan></text>
<text class="aj" x="695" y="13">1<tspan x="695" dy="14">2</tspan><tspan x="695" dy="14">1</tspan><tspan x="695" dy="14">1</tspan></text></g></g>
<g id="j6"><circle class="fj" cx="760" cy="1257" r="14"/><text class="lbj" x="760" y="1292">6</text>
<g transform="translate(0,1312)"><rect class="gj" x="744" width="13" height="57"/><rect class="lc" x="762" width="13" height="57"/>
<text class="aj" x="736" y="13">1<tspan x="736" dy="14">2</tspan><tspan x="736" dy="14">1</tspan><tspan x="736" dy="14">1</tspan></text>
<text class="aj" x="785" y="13">1<tspan x="785" dy="14">2</tspan><tspan x="785" dy="14">1</tspan><tspan x="785" dy="14">1</tspan></text></g></g>
<g id="j7"><rect class="fj" x="837" y="1244" width="26" height="26"/><text class="lbj" x="850" y="1292">7</text>
<g transform="translate(0,1312)"><rect class="gj" x="835" width="13" height="57"/><rect class="lc" x="854" width="13" height="57"/>
<text class="aj" x="826" y="13">1<tspan x="826" dy="14">2</tspan><tspan x="826" dy="14">1</tspan><tspan x="826" dy="14">1</tspan></text>
<text class="aj" x="875" y="13">1<tspan x="875" dy="14">2</tspan><tspan x="875" dy="14">1</tspan><tspan x="875" dy="14">1</tspan></text></g></g>
</svg>
